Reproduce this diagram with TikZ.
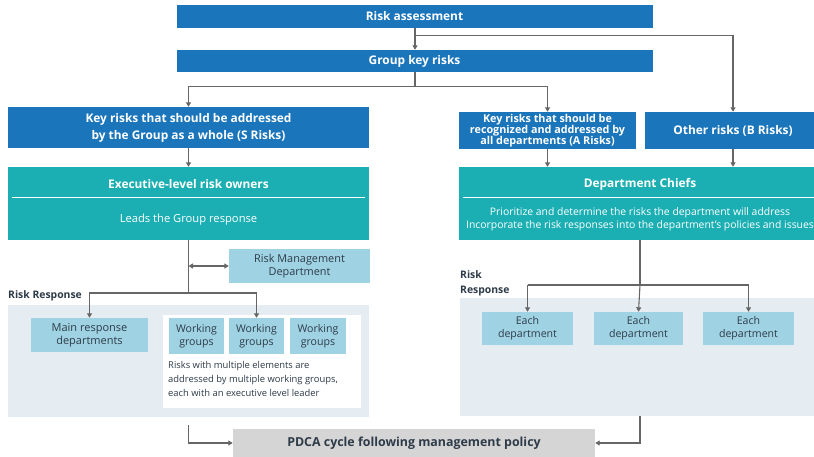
\documentclass[tikz,border=0pt]{standalone}
\usepackage{fontspec}
\setmainfont{Open Sans}
\usetikzlibrary{arrows.meta}
\definecolor{dblue}{HTML}{1A75BB}
\definecolor{teal2}{HTML}{1BAFB3}
\definecolor{lblue}{HTML}{9FD3E3}
\definecolor{panel}{HTML}{E5EDF3}
\definecolor{pdcagray}{HTML}{D5D5D5}
\definecolor{linegray}{HTML}{666666}
\definecolor{dtext}{HTML}{2E3B48}
\begin{document}
\begin{tikzpicture}[x=1pt,y=-1pt,
  bluebox/.style={fill=dblue,text=white,font=\bfseries\fontsize{11.9}{17}\selectfont,align=center,inner sep=0pt},
  tealbox/.style={fill=teal2,inner sep=0pt},
  lightbox/.style={fill=lblue,text=dtext,font=\fontsize{10.6}{13}\selectfont,align=center,inner sep=0pt},
  panelbox/.style={fill=panel,inner sep=0pt},
  conn/.style={draw=linegray,line width=1.1pt},
  arr/.style={conn,-{Triangle[width=5pt,length=4.5pt]}},
  darr/.style={conn,{Triangle[width=5pt,length=4.5pt]}-{Triangle[width=5pt,length=4.5pt]}},
  wtitle/.style={text=white,font=\bfseries\fontsize{11.9}{14}\selectfont},
  wtext/.style={text=white,font=\fontsize{10.4}{13.5}\selectfont,align=center}
]
\useasboundingbox (0,0) rectangle (814,456);
\fill[white] (0,0) rectangle (814,456);

% top boxes
\node[bluebox,minimum width=476pt,minimum height=23pt] (ra) at (414.5,16.5) {Risk assessment};
\node[bluebox,minimum width=476pt,minimum height=22pt] (gk) at (414.5,61) {Group key risks};
\node[bluebox,minimum width=361pt,minimum height=41pt] (srisk) at (188.5,127.5) {Key risks that should be addressed\\by the Group as a whole (S Risks)};
\node[bluebox,minimum width=177pt,minimum height=37pt,font=\bfseries\fontsize{10.8}{11.3}\selectfont] (arisk) at (547.5,130.5) {Key risks that should be\\recognized and addressed by\\all departments (A Risks)};
\node[bluebox,minimum width=176pt,minimum height=37pt] (brisk) at (733,130.5) {Other risks (B Risks)};

% teal boxes
\node[tealbox,minimum width=361pt,minimum height=73pt] (exec) at (188.5,203.5) {};
\draw[white,line width=0.8pt] (12,197) -- (365,197);
\node[wtitle] (exect) at (188.5,184) {Executive-level risk owners};
\node[wtext,font=\fontsize{11.2}{13.5}\selectfont] (execs) at (188.5,220) {Leads the Group response};

\node[tealbox,minimum width=362pt,minimum height=73pt] (dept) at (640,203.5) {};
\draw[white,line width=0.8pt] (463,197) -- (814,197);
\node[wtitle] (deptt) at (640,184) {Department Chiefs};
\node[wtext] (depts) at (640,219.5) {Prioritize and determine the risks the department will address\\Incorporate the risk responses into the department's policies and issues};

% risk management department
\node[lightbox,font=\fontsize{10.9}{13}\selectfont,minimum width=141pt,minimum height=34pt] (rmd) at (299.5,266) {Risk Management\\Department};

% panels
\node[panelbox,minimum width=361pt,minimum height=112pt] (lp) at (188.5,361) {};
\node[panelbox,minimum width=361pt,minimum height=118pt] (rp) at (640.5,357) {};
\node[fill=white,inner sep=0pt,minimum width=198pt,minimum height=93pt] (wp) at (262,361.5) {};

\node[anchor=west,text=dtext,font=\bfseries\fontsize{10.4}{13}\selectfont,inner sep=0pt] (rrl) at (8,296) {Risk Response};
\node[anchor=north west,text=dtext,font=\bfseries\fontsize{10.4}{15}\selectfont,align=left,inner sep=0pt] (rrr) at (460,270) {Risk\\Response};

% left light boxes
\node[lightbox,font=\fontsize{11}{13}\selectfont,minimum width=117pt,minimum height=34pt] (main) at (89.5,335) {Main response\\departments};
\node[lightbox,minimum width=55pt,minimum height=36pt] (wg1) at (196.5,336) {Working\\groups};
\node[lightbox,minimum width=55pt,minimum height=36pt] (wg2) at (256.5,336) {Working\\groups};
\node[lightbox,minimum width=56pt,minimum height=36pt] (wg3) at (318,336) {Working\\groups};
\node[anchor=north west,text=dtext,font=\fontsize{9.4}{14}\selectfont,align=left,inner sep=0pt] (wgt) at (168,361) {Risks with multiple elements are\\addressed by multiple working groups,\\each with an executive level leader};

% right light boxes
\node[lightbox,minimum width=91pt,minimum height=33pt] (ed1) at (527.5,328.5) {Each\\department};
\node[lightbox,minimum width=89pt,minimum height=33pt] (ed2) at (638.5,328.5) {Each\\department};
\node[lightbox,minimum width=91pt,minimum height=33pt] (ed3) at (748.5,328.5) {Each\\department};

% PDCA
\node[fill=pdcagray,text=dtext,font=\bfseries\fontsize{12.4}{14}\selectfont,inner sep=0pt,minimum width=362pt,minimum height=28pt] (pdca) at (414,443) {PDCA cycle following management policy};

% coordinates
\coordinate (c415) at (415,0);
\coordinate (j1) at (188.5,293);
\coordinate (j2) at (640,285);

% connectors
\draw[arr] (ra.south -| c415) -- (gk.north -| c415);
\draw[arr] (ra.south -| c415) -- ++(0,7) -| (brisk.north);
\draw[arr] (gk.south -| c415) -- ++(0,14) -| (srisk.north);
\draw[arr] (gk.south -| c415) -- ++(0,14) -| (arisk.north);
\draw[arr] (srisk.south) -- (exec.north);
\draw[arr] (arisk.south) -- (arisk.south |- dept.north);
\draw[arr] (brisk.south) -- (brisk.south |- dept.north);

\draw[conn] (exec.south) -- (j1);
\draw[darr] (exec.south |- rmd.west) -- (rmd.west);
\draw[arr] (j1) -| (main.north);
\draw[arr] (j1) -| (wg2.north);

\draw[conn] (dept.south -| j2) -- (j2);
\draw[arr] (j2) -- (ed2.north);
\draw[conn] (j2 -| ed1.north) -- (j2 -| ed3.north);
\draw[arr] (j2 -| ed1.north) -- (ed1.north);
\draw[arr] (j2 -| ed3.north) -- (ed3.north);

\draw[arr,shorten <=8pt] (lp.south -| exec.south) |- (pdca.west);
\draw[arr] (rp.south -| j2) |- (pdca.east);
\end{tikzpicture}
\end{document}
